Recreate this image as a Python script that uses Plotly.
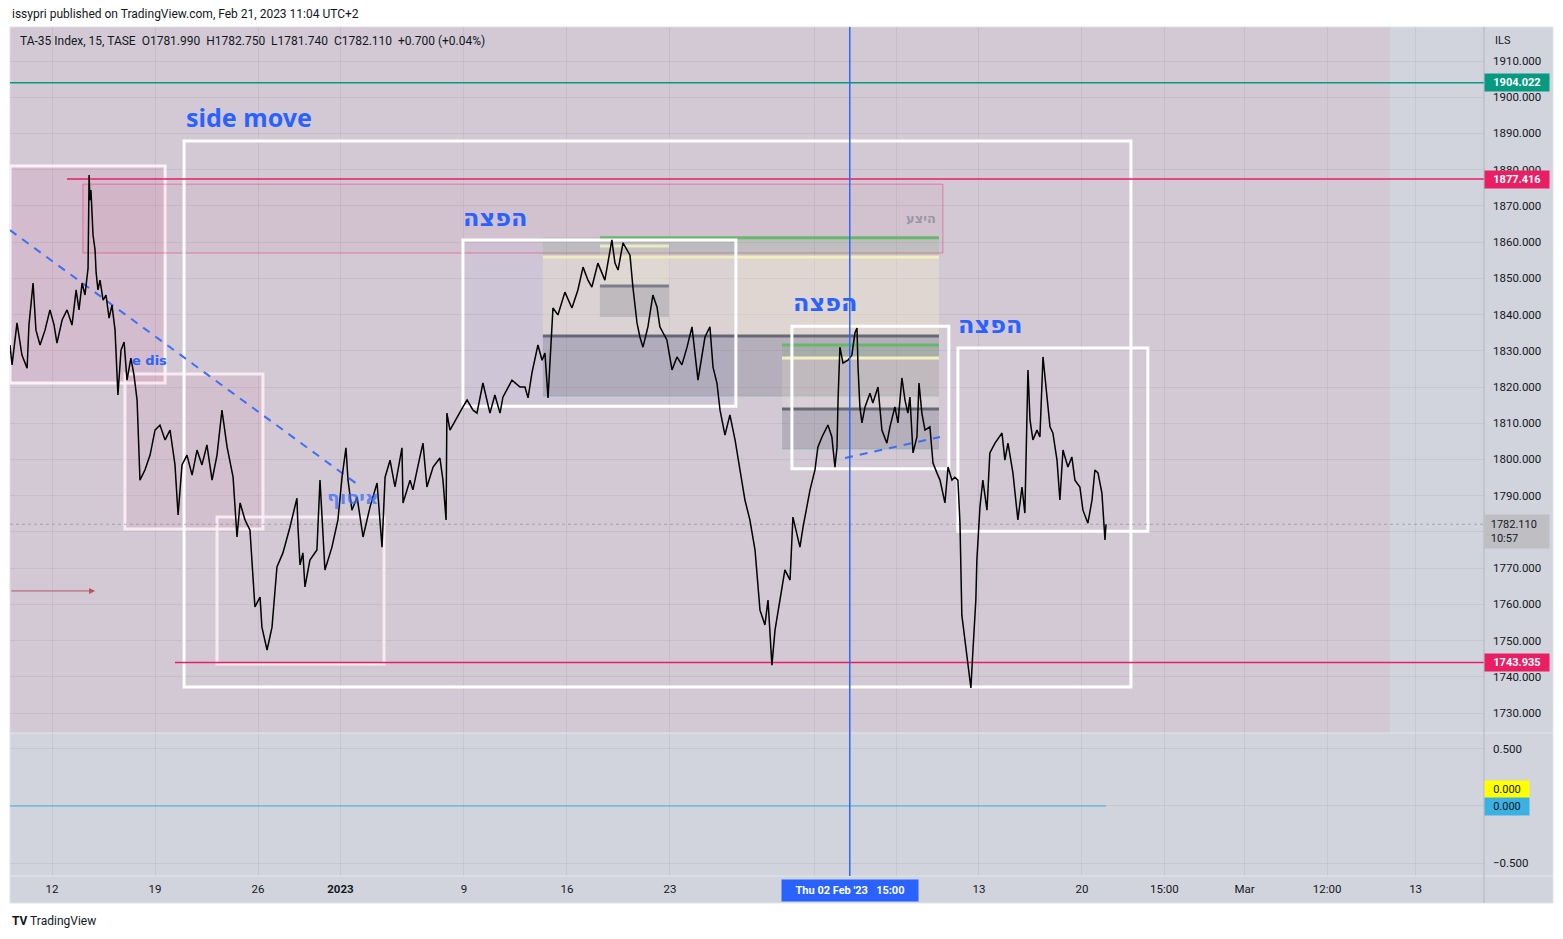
import plotly.graph_objects as go

W, H = 1563, 939

# ---------------- data (x = trading-day index, 0 = Mon 12 Dec 2022) ----------------
bar_day = [
    -2.04, -1.94, -1.70, -1.46, -1.21, -1.12, -0.92, -0.78, -0.58, -0.34,
    -0.10, 0.10, 0.24, 0.49, 0.73, 0.97, 1.17, 1.31, 1.46, 1.60,
    1.75, 1.80, 1.84, 1.89, 1.99, 2.09, 2.14, 2.23, 2.33, 2.48,
    2.62, 2.77, 2.91, 3.06, 3.20, 3.35, 3.50, 3.64, 3.83, 3.98,
    4.13, 4.27, 4.51, 4.76, 5.00, 5.24, 5.49, 5.73, 5.97, 6.12,
    6.31, 6.55, 6.80, 7.04, 7.28, 7.52, 7.77, 8.01, 8.25, 8.50,
    8.79, 8.98, 9.13, 9.37, 9.61, 9.85, 10.10, 10.19, 10.44, 10.68,
    10.92, 11.07, 11.21, 11.55, 11.89, 11.94, 12.04, 12.18, 12.28, 12.52,
    12.86, 13.01, 13.11, 13.25, 13.59, 13.88, 14.08, 14.27, 14.37, 14.56,
    14.81, 15.10, 15.44, 15.78, 16.02, 16.17, 16.41, 16.65, 16.99, 17.04,
    17.38, 17.52, 17.86, 18.01, 18.20, 18.50, 18.83, 18.98, 19.13, 19.17,
    19.32, 19.66, 19.95, 20.15, 20.44, 20.63, 20.92, 21.26, 21.50, 21.75,
    21.89, 22.33, 22.72, 22.96, 23.11, 23.30, 23.59, 23.79, 23.93, 24.08,
    24.22, 24.32, 24.56, 24.90, 25.24, 25.53, 25.78, 26.02, 26.21, 26.50,
    26.84, 27.18, 27.33, 27.48, 27.72, 28.06, 28.20, 28.40, 28.54, 28.69,
    28.93, 29.17, 29.37, 29.51, 29.85, 30.10, 30.34, 30.58, 30.83, 31.07,
    31.36, 31.70, 31.94, 32.09, 32.28, 32.43, 32.67, 32.91, 33.16, 33.40,
    33.64, 33.88, 34.13, 34.37, 34.61, 34.76, 34.95, 35.10, 35.34, 35.58,
    35.83, 35.97, 36.31, 36.46, 36.80, 37.04, 37.18, 37.38, 37.67, 37.86,
    38.01, 38.11, 38.16, 38.25, 38.40, 38.64, 38.83, 38.98, 39.08, 39.13,
    39.22, 39.32, 39.47, 39.71, 39.85, 40.10, 40.29, 40.53, 40.68, 40.92,
    41.07, 41.26, 41.41, 41.55, 41.65, 41.80, 41.99, 42.09, 42.23, 42.38,
    42.62, 42.77, 42.96, 43.11, 43.35, 43.50, 43.69, 43.83, 43.98, 44.08,
    44.17, 44.32, 44.47, 44.61, 44.71, 44.85, 44.90, 45.05, 45.19, 45.39,
    45.53, 45.78, 46.12, 46.26, 46.41, 46.65, 46.89, 47.09, 47.23, 47.38,
    47.48, 47.62, 47.82, 47.96, 48.11, 48.30, 48.45, 48.59, 48.79, 48.93,
    49.08, 49.32, 49.51, 49.66, 49.90, 50.05, 50.29, 50.49, 50.63, 50.78,
    50.97, 51.12, 51.17,
]
bar_close = [
    1831.6, 1826.1, 1837.7, 1828.8, 1825.2, 1837.1, 1848.7, 1835.7, 1831.6, 1835.7,
    1841.3, 1837.1, 1832.1, 1838.5, 1841.3, 1837.1, 1846.8, 1841.3, 1848.7, 1845.4,
    1852.8, 1878.5, 1871.6, 1874.4, 1862.0, 1857.8, 1851.7, 1846.8, 1849.5, 1844.0,
    1845.4, 1839.0, 1842.6, 1835.7, 1817.8, 1830.2, 1832.4, 1821.9, 1828.0, 1823.3,
    1816.4, 1794.3, 1797.1, 1801.2, 1808.1, 1809.5, 1805.4, 1808.1, 1798.5, 1784.7,
    1798.5, 1801.2, 1795.7, 1802.6, 1798.5, 1804.0, 1794.3, 1801.2, 1813.6, 1803.4,
    1795.1, 1778.6, 1788.0, 1783.3, 1780.5, 1759.3, 1762.0, 1753.7, 1747.4, 1753.7,
    1770.3, 1772.2, 1774.2, 1781.3, 1789.3, 1781.3, 1770.9, 1774.2, 1764.8, 1772.2,
    1775.0, 1794.3, 1782.4, 1769.5, 1775.8, 1783.3, 1795.1, 1803.2, 1794.3, 1786.0,
    1789.6, 1778.6, 1786.9, 1793.5, 1775.8, 1795.1, 1799.8, 1792.4, 1803.2, 1788.0,
    1794.3, 1791.6, 1800.7, 1804.5, 1792.4, 1797.9, 1800.4, 1794.3, 1783.3, 1812.8,
    1808.1, 1811.7, 1814.5, 1816.4, 1813.6, 1812.8, 1821.1, 1812.8, 1817.8, 1812.8,
    1817.2, 1821.9, 1820.0, 1820.0, 1817.0, 1823.9, 1831.6, 1827.4, 1829.4, 1817.0,
    1831.0, 1841.8, 1839.9, 1846.2, 1841.8, 1846.8, 1853.1, 1849.5, 1847.6, 1854.2,
    1849.5, 1860.6, 1854.2, 1852.3, 1859.8, 1856.4, 1847.6, 1837.7, 1833.8, 1831.0,
    1836.6, 1845.4, 1842.1, 1836.6, 1833.0, 1824.7, 1828.3, 1826.1, 1831.0, 1836.6,
    1821.9, 1833.8, 1836.6, 1825.5, 1821.1, 1813.6, 1806.7, 1812.3, 1805.4, 1797.1,
    1788.8, 1783.3, 1775.0, 1758.4, 1754.3, 1761.2, 1743.2, 1752.9, 1761.2, 1769.5,
    1766.7, 1784.1, 1775.8, 1781.3, 1791.6, 1797.1, 1803.4, 1806.2, 1809.5, 1806.2,
    1797.9, 1803.4, 1816.4, 1831.0, 1826.6, 1827.4, 1828.8, 1834.9, 1836.3, 1825.5,
    1814.5, 1810.1, 1814.5, 1818.3, 1815.6, 1820.0, 1808.1, 1804.5, 1809.0, 1814.5,
    1810.1, 1822.5, 1816.4, 1812.8, 1817.2, 1801.8, 1806.2, 1821.1, 1812.8, 1808.1,
    1809.0, 1799.0, 1796.3, 1794.3, 1788.0, 1797.9, 1794.3, 1795.1, 1794.3, 1782.4,
    1757.0, 1750.1, 1744.6, 1736.9, 1747.4, 1761.2, 1772.2, 1786.9, 1794.3, 1786.0,
    1801.8, 1804.5, 1807.3, 1799.8, 1804.5, 1796.3, 1783.3, 1792.4, 1785.2, 1824.7,
    1810.9, 1805.4, 1808.1, 1806.2, 1828.3, 1817.2, 1809.0, 1807.3, 1799.8, 1788.8,
    1802.6, 1797.9, 1800.7, 1794.3, 1792.4, 1786.0, 1782.4, 1788.8, 1797.1, 1796.3,
    1790.7, 1777.8, 1782.11,
]

level_green = 1904.022
level_red_top = 1877.416
level_red_low = 1743.935
last_close = 1782.110
osc_day = [-2.04, 51.17]
osc_yellow = [0.0, 0.0]
osc_blue = [0.0, 0.0]

x_tickvals = [0, 5, 10, 14, 20, 25, 30, 37, 41, 45, 50, 54.0, 57.9, 61.9, 66.2]
# "Feb" and "6" sit under the crosshair time label in the reference -> hidden
x_ticktext = ["12", "19", "26", "<b>2023</b>", "9", "16", "23", "", "", "13",
              "20", "15:00", "Mar", "12:00", "13"]
y_tickvals = [1730, 1740, 1750, 1760, 1770, 1780, 1790, 1800, 1810, 1820,
              1830, 1840, 1850, 1860, 1870, 1880, 1890, 1900, 1910]
# 1780 is covered by the last-price label in the reference
y_ticktext = ["1730.000", "1740.000", "1750.000", "1760.000", "1770.000", "",
              "1790.000", "1800.000", "1810.000", "1820.000", "1830.000", "1840.000",
              "1850.000", "1860.000", "1870.000", "1880.000", "1890.000", "1900.000",
              "1910.000"]
y2_tickvals = [-0.5, 0.0, 0.5]
y2_ticktext = ["\u22120.500", "", "0.500"]
crosshair_day = 38.73

X_RANGE = [-2.04, 69.52]
Y_RANGE = [1724.48, 1919.39]
Y2_RANGE = [-0.614, 0.64]


def px(x):
    return x / W


def py(y):
    return 1 - y / H


FONT = "Roboto, Arial, sans-serif"
TXT = "#131722"
BLUE = "#2962ff"

shapes = []


def add_rect(x0, x1, y0, y1, fill="rgba(0,0,0,0)", line=None, width=0,
             layer="between", xref="x", yref="y", dash="solid"):
    shapes.append(dict(type="rect", xref=xref, yref=yref, x0=x0, x1=x1, y0=y0, y1=y1,
                       fillcolor=fill, layer=layer,
                       line=dict(color=line or "rgba(0,0,0,0)", width=width, dash=dash)))


def add_line(x0, x1, y0, y1, color, width=1, dash="solid", layer="between",
             xref="x", yref="y"):
    shapes.append(dict(type="line", xref=xref, yref=yref, x0=x0, x1=x1, y0=y0, y1=y1,
                       layer=layer, line=dict(color=color, width=width, dash=dash)))


# chart frame / background
add_rect(px(10), px(1553), py(903), py(27), fill="#d1d4dc", line="#e0e3eb", width=1,
         layer="below", xref="paper", yref="paper")
# pink background zone
add_rect(-2.04, 64.95, 0, 1, fill="rgba(233,30,99,0.06)", layer="below", yref="y domain")

# left pink boxes
add_rect(-2.04, 5.49, 1821.1, 1881.0, fill="rgba(233,30,99,0.07)",
         line="rgba(255,246,250,0.9)", width=3)
add_rect(3.54, 10.24, 1780.8, 1823.6, fill="rgba(233,30,99,0.05)",
         line="rgba(255,240,246,0.85)", width=3)
add_rect(8.01, 16.12, 1743.5, 1784.1, line="rgba(255,240,246,0.85)", width=3)

# supply rectangle
add_rect(1.50, 43.25, 1857.0, 1876.0, fill="rgba(233,30,99,0.04)",
         line="rgba(233,30,99,0.45)", width=1)

# zone A
add_rect(23.83, 43.06, 1855.9, 1861.4, fill="rgba(110,170,110,0.18)")
add_rect(23.83, 43.06, 1834.1, 1855.9, fill="rgba(255,245,205,0.30)")
add_rect(23.83, 43.06, 1817.5, 1834.1, fill="rgba(95,98,112,0.25)")
add_rect(26.60, 29.95, 1847.9, 1858.9, fill="rgba(255,245,205,0.15)")
add_rect(26.60, 29.95, 1839.3, 1847.9, fill="rgba(95,98,112,0.22)")
add_line(26.60, 43.06, 1861.2, 1861.2, "#66b86a", 3)
add_line(23.83, 43.06, 1855.9, 1855.9, "#f4efbc", 3)
add_line(23.83, 43.06, 1834.1, 1834.1, "#666975", 3)
add_line(23.83, 43.06, 1817.5, 1817.5, "rgba(110,170,160,0.45)", 1)
add_line(26.60, 29.95, 1858.9, 1858.9, "#eef0c0", 3)
add_line(26.60, 29.95, 1847.9, 1847.9, "#7d808b", 3)

# zone B
add_rect(35.44, 43.06, 1828.0, 1831.6, fill="rgba(110,170,110,0.20)")
add_rect(35.44, 43.06, 1813.9, 1828.0, fill="rgba(255,245,205,0.15)")
add_rect(35.44, 43.06, 1802.9, 1813.9, fill="rgba(95,98,112,0.25)")
add_line(35.44, 43.06, 1831.6, 1831.6, "#66b86a", 3)
add_line(35.44, 43.06, 1828.0, 1828.0, "#f4efbc", 3)
add_line(35.44, 43.06, 1813.9, 1813.9, "#666975", 3)
add_line(35.44, 43.06, 1802.9, 1802.9, "rgba(110,170,160,0.45)", 1)

# distribution boxes
add_rect(19.95, 33.20, 1814.7, 1860.6, fill="rgba(41,98,255,0.025)", line="#ffffff", width=3)
add_rect(35.92, 43.54, 1797.4, 1836.8, line="#ffffff", width=3)
add_rect(43.98, 53.20, 1780.2, 1830.8, line="#ffffff", width=3)
# side move box
add_rect(6.41, 52.38, 1737.2, 1887.9, line="#ffffff", width=3)

# horizontal levels
add_line(-2.04, 69.52, level_green, level_green, "#089981", 1.5)
add_line(0.73, 69.52, level_red_top, level_red_top, "#e91e63", 1.5)
add_line(5.97, 69.52, level_red_low, level_red_low, "#e91e63", 1.5)
add_line(-2.04, 69.52, last_close, last_close, "rgba(110,113,125,0.45)", 1, dash="dot")

# dashed trend lines
add_line(-2.04, 14.81, 1863.3, 1793.2, "#3f6ff5", 2, dash="8px,7px")
add_line(38.50, 43.11, 1800.4, 1806.2, "#3f6ff5", 2, dash="8px,7px")

# separators
add_line(px(10), px(1553), py(733), py(733), "#e3e5ec", 1, xref="paper", yref="paper", layer="above")
add_line(px(10), px(1553), py(876), py(876), "#e3e5ec", 1, xref="paper", yref="paper", layer="above")
add_line(px(1484), px(1484), py(903), py(27), "rgba(170,174,188,0.8)", 1,
         xref="paper", yref="paper", layer="above")

# crosshair
add_line(crosshair_day, crosshair_day, py(876), py(27), "#2f66ff", 1.5, xref="x", yref="paper",
         layer="above")

fig = go.Figure()
fig.add_trace(go.Scatter(x=bar_day, y=bar_close, mode="lines",
                         line=dict(color="#000000", width=1.5), hoverinfo="skip",
                         xaxis="x", yaxis="y"))
# yellow oscillator line is hidden under the blue one in the reference
fig.add_trace(go.Scatter(x=osc_day, y=osc_blue, mode="lines",
                         line=dict(color="#3bb1e3", width=1), hoverinfo="skip",
                         xaxis="x2", yaxis="y2"))

annotations = []


def note(text, x, y, xref="paper", yref="paper", xanchor="left", yanchor="middle",
         size=12, color=TXT, family=FONT, **kw):
    annotations.append(dict(text=text, x=x, y=y, xref=xref, yref=yref, xanchor=xanchor,
                            yanchor=yanchor, showarrow=False,
                            font=dict(size=size, color=color, family=family), **kw))


NB = "\u00a0"
note("issypri published on TradingView.com, Feb 21, 2023 11:04 UTC+2", px(10), py(14), size=12)
note(f"TA-35 Index, 15, TASE{NB*2}O1781.990{NB*2}H1782.750{NB*2}L1781.740{NB*2}C1782.110{NB*2}+0.700 (+0.04%)",
     px(18), py(41), size=12)
note("ILS", px(1493), py(40), size=11)
note("<b>TV</b> TradingView", px(10), py(921), size=12)

# drawing texts
note("<b>side move</b>", 6.41, 1894.5, xref="x", yref="y", size=25, color=BLUE,
     family="Noto Sans, sans-serif")
for dx, dy in [(21.5, 1866.7), (37.52, 1843.2), (45.53, 1837.1)]:
    note("<b>הפצה</b>", dx, dy, xref="x", yref="y", xanchor="center", size=24, color=BLUE,
         family="DejaVu Sans, sans-serif")
note("<b>איסוף</b>", 14.61, 1789.6, xref="x", yref="y", xanchor="center", size=19,
     color="rgba(60,110,250,0.75)", family="DejaVu Sans, sans-serif")
note("<b>היצע</b>", 43.0, 1866.4, xref="x", yref="y", xanchor="right", size=13,
     color="#9a98a6", family="DejaVu Sans, sans-serif")
note("<b>e dis</b>", 3.79, 1827.4, xref="x", yref="y", size=13, color=BLUE,
     family="DejaVu Sans, sans-serif")

# arrow
annotations.append(dict(x=2.09, y=1763.7, ax=-2.04, ay=1763.7, xref="x", yref="y",
                        axref="x", ayref="y", text="", showarrow=True, arrowhead=2,
                        arrowsize=1.2, arrowwidth=1, arrowcolor="#b5525d"))


def axis_label(text, y, bg, fg, yref="y", bold=True, width=60, pad=2):
    annotations.append(dict(text=f"<b>{text}</b>" if bold else text, x=px(1484), y=y,
                            xref="paper", yref=yref, xanchor="left", yanchor="middle",
                            showarrow=False, bgcolor=bg, borderpad=pad, width=width,
                            align="center",
                            font=dict(size=11, color=fg, family=FONT)))


axis_label(f"{level_green:.3f}", level_green, "#089981", "#ffffff")
axis_label(f"{level_red_top:.3f}", level_red_top, "#e91e63", "#ffffff")
axis_label(f"{level_red_low:.3f}", level_red_low, "#e91e63", "#ffffff")
annotations.append(dict(text=f"{NB}{last_close:.3f}<br>{NB}10:57", x=px(1484), y=py(531),
                        xref="paper", yref="paper", xanchor="left", yanchor="middle",
                        showarrow=False, bgcolor="#bfbfc3", borderpad=3, width=58,
                        align="left", font=dict(size=11, color=TXT, family=FONT)))
axis_label(f"{osc_yellow[-1]:.3f}", py(789), "#ffff00", TXT, yref="paper", bold=False, width=40)
axis_label(f"{osc_blue[-1]:.3f}", py(806), "#3bb1e3", TXT, yref="paper", bold=False, width=40)

# crosshair time label
annotations.append(dict(text=f"<b>Thu 02 Feb '23{NB*3}15:00</b>", x=crosshair_day, y=py(890),
                        xref="x", yref="paper", xanchor="center", yanchor="middle",
                        showarrow=False, bgcolor=BLUE, borderpad=4, width=128,
                        font=dict(size=11, color="#ffffff", family=FONT)))

GRID = "rgba(42,46,57,0.07)"
dom_x = [px(10), px(1484)]

fig.update_layout(
    width=W, height=H, autosize=False,
    margin=dict(l=0, r=0, t=0, b=0),
    paper_bgcolor="#ffffff", plot_bgcolor="rgba(0,0,0,0)",
    showlegend=False, hovermode=False, dragmode=False,
    font=dict(family=FONT, size=11, color=TXT),
    xaxis=dict(domain=dom_x, range=X_RANGE, anchor="y", tickvals=x_tickvals,
               showticklabels=False, showgrid=True, gridcolor=GRID, zeroline=False,
               showline=False, ticks=""),
    yaxis=dict(domain=[py(733), py(27)], range=Y_RANGE, anchor="x", side="right",
               tickvals=y_tickvals, ticktext=y_ticktext, showgrid=True, gridcolor=GRID,
               zeroline=False, showline=False, ticks="", ticklabelstandoff=8,
               tickfont=dict(size=11.5, color=TXT, family=FONT)),
    xaxis2=dict(domain=dom_x, range=X_RANGE, anchor="y2", tickvals=x_tickvals,
                ticktext=x_ticktext, showticklabels=True, showgrid=True, gridcolor=GRID,
                zeroline=False, showline=False, ticks="", ticklabelstandoff=4,
                tickfont=dict(size=11.5, color=TXT, family=FONT)),
    yaxis2=dict(domain=[py(876), py(733)], range=Y2_RANGE, anchor="x2", side="right",
                tickvals=y2_tickvals, ticktext=y2_ticktext, showgrid=True, gridcolor=GRID,
                zeroline=False, showline=False, ticks="", ticklabelstandoff=8,
                tickfont=dict(size=11.5, color=TXT, family=FONT)),
    shapes=shapes,
    annotations=annotations,
)

fig.write_html("out.html", include_plotlyjs=True, config={"displayModeBar": False},
               post_script="document.body.style.margin='0';document.body.style.padding='0';"
                           "document.body.style.overflow='hidden';")
